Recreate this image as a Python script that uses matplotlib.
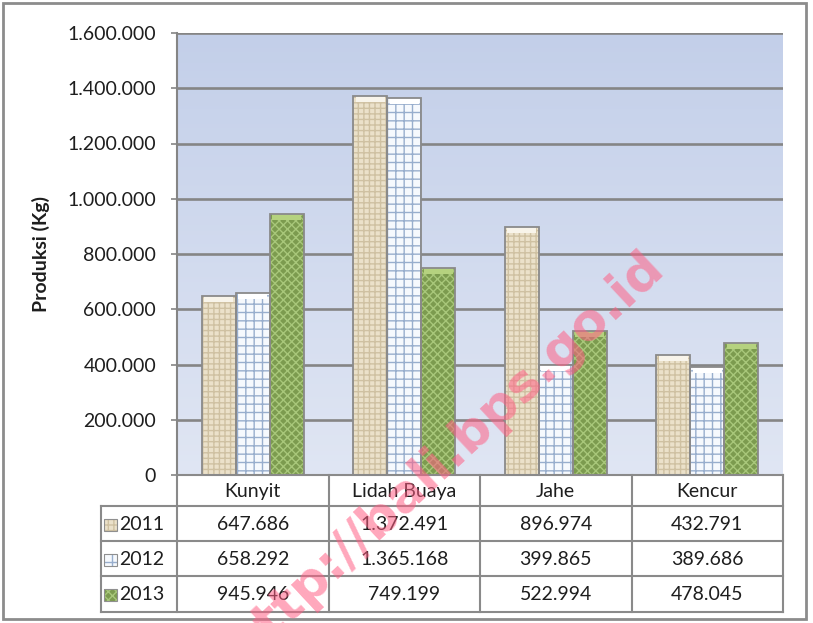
import numpy as np
import matplotlib.pyplot as plt
from matplotlib.patches import Rectangle

# data
categories = ["Kunyit", "Lidah Buaya", "Jahe", "Kencur"]
years = ["2011", "2012", "2013"]
prod_2011 = [647686, 1372491, 896974, 432791]
prod_2012 = [658292, 1365168, 399865, 389686]
prod_2013 = [945946, 749199, 522994, 478045]
series = [prod_2011, prod_2012, prod_2013]

# looks of each series: face, hatch, hatch colour, top cap colour
styles = [
    dict(face="#ebe1ca", hatch="+++", hcol="#cfc1a2", cap="#f8f4ea"),
    dict(face="#f6f9fd", hatch="++", hcol="#98aecd", cap="#ffffff"),
    dict(face="#7c9b4f", hatch="xxxx", hcol="#a8c77a", cap="#b5d27f"),
]

def fmt(v):
    return f"{v:,.0f}".replace(",", ".")

plt.rcParams["font.family"] = ["Lato", "DejaVu Sans"]
FS = 14
TXT = "#1e1e1e"
W, H = 813, 623
fig = plt.figure(figsize=(W / 100, H / 100), dpi=100)

# outer frame
frame = fig.add_axes([0, 0, 1, 1], zorder=-1)
frame.set_xlim(0, W)
frame.set_ylim(H, 0)
frame.axis("off")
frame.add_patch(Rectangle((3, 3), 803, 616, fill=False, edgecolor="#8c8c8c", lw=2))

# main chart area (pixel box 177..783, 33..475)
L, R, T, B = 177, 783, 33, 475
ax = fig.add_axes([L / W, 1 - B / H, (R - L) / W, (B - T) / H])
x = np.arange(len(categories))
ymax = 1600000

# gradient background, darker at the top
grad = np.linspace(0, 1, 256).reshape(-1, 1)
top = np.array([0.765, 0.812, 0.915])
bot = np.array([0.878, 0.902, 0.955])
img = top + (bot - top) * grad[:, :, None]
ax.imshow(img, extent=[-0.5, len(categories) - 0.5, 0, ymax], origin="upper",
          aspect="auto", zorder=0)
ax.set_xlim(-0.5, len(categories) - 0.5)
ax.set_ylim(0, ymax)

ticks = np.arange(0, ymax + 1, 200000)
ax.set_yticks(ticks)
ax.set_yticklabels([fmt(v) for v in ticks], fontsize=FS, color=TXT)
ax.yaxis.grid(True, color="#858585", lw=1.9, zorder=1)
ax.set_axisbelow(True)
ax.tick_params(axis="y", length=4, width=1.2, color="#858585", pad=11)
ax.set_xticks([])
for s in ["top", "right", "bottom"]:
    ax.spines[s].set_visible(False)
ax.spines["left"].set_color("#858585")
ax.spines["left"].set_linewidth(1.5)

ax.set_ylabel("Produksi (Kg)", fontsize=FS, color=TXT, fontweight="bold")
ax.yaxis.set_label_coords((50 - L) / (R - L), 0.5)

width = 0.224
cap_h = ymax * 6 / (B - T)
for k, (vals, st) in enumerate(zip(series, styles)):
    pos = x + (k - 1) * width
    ax.bar(pos, vals, width, color=st["face"], lw=0, zorder=2)
    ax.bar(pos, vals, width, color="none", hatch=st["hatch"], edgecolor=st["hcol"], lw=0, zorder=3)
    ax.bar(pos, cap_h, width * 0.86, bottom=np.array(vals) - cap_h, color=st["cap"], lw=0, zorder=3.5)
    ax.bar(pos, vals, width, fill=False, edgecolor="#8a8a8a", lw=1.3, zorder=4)

# data table under the chart
tax = fig.add_axes([L / W, 1 - 612 / H, (R - L) / W, (612 - B) / H])
tax.set_xlim(-0.5, len(categories) - 0.5)
rows = [0, 31, 66, 101, 137]
tax.set_ylim(rows[-1], 0)
tax.axis("off")
lc = "#8a8a8a"
xl = -1.0
tax.plot([-0.5, len(categories) - 0.5], [0, 0], color=lc, lw=1.5, clip_on=False)
for yy in rows[1:]:
    tax.plot([xl, len(categories) - 0.5], [yy, yy], color=lc, lw=1.5, clip_on=False)
tax.plot([xl, xl], [rows[1], rows[-1]], color=lc, lw=1.5, clip_on=False)
for xx in np.arange(-0.5, len(categories), 1.0):
    tax.plot([xx, xx], [0, rows[-1]], color=lc, lw=1.5, clip_on=False)

for i, c in enumerate(categories):
    tax.text(i, (rows[0] + rows[1]) / 2 + 1, c, ha="center", va="center", fontsize=FS, color=TXT)
for k, (vals, st) in enumerate(zip(series, styles)):
    yc = (rows[k + 1] + rows[k + 2]) / 2 + 1
    tax.add_patch(Rectangle((-0.982, yc - 6), 0.086, 12, facecolor=st["face"], hatch=st["hatch"],
                            edgecolor=st["hcol"], lw=0, clip_on=False))
    tax.add_patch(Rectangle((-0.982, yc - 6), 0.086, 12, fill=False, edgecolor="#8f8f8f", lw=0.8, clip_on=False))
    tax.text(-0.885, yc, years[k], ha="left", va="center", fontsize=FS, color=TXT, clip_on=False)
    for i, v in enumerate(vals):
        tax.text(i, yc, fmt(v), ha="center", va="center", fontsize=FS, color=TXT)

# watermark
fig.text(446 / W, 1 - 456 / H, "http://bali.bps.go.id", fontsize=37, fontweight="bold",
         family="DejaVu Sans", color="#ff5f84", alpha=0.55, rotation=43,
         rotation_mode="anchor", ha="center", va="center", zorder=10)

fig.savefig("out.png", dpi=100)
